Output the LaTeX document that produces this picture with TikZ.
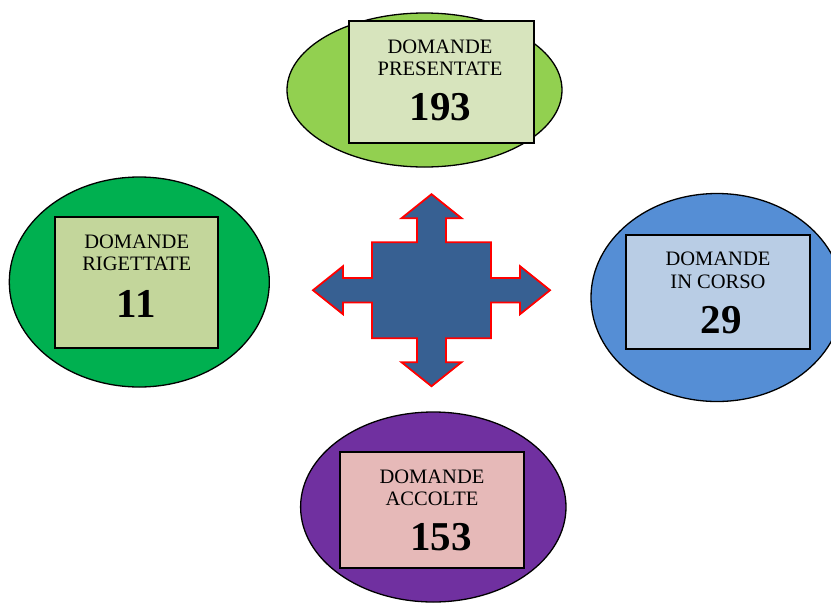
\documentclass[tikz,border=0pt]{standalone}
\usepackage{fontspec}
\setmainfont{Liberation Serif}
\usetikzlibrary{shapes.geometric}

\definecolor{presgreen}{HTML}{92D050}
\definecolor{presfill}{HTML}{D7E4BD}
\definecolor{riggreen}{HTML}{00B050}
\definecolor{rigfill}{HTML}{C3D69B}
\definecolor{corblue}{HTML}{558ED5}
\definecolor{corfill}{HTML}{B9CDE5}
\definecolor{accviolet}{HTML}{7030A0}
\definecolor{accfill}{HTML}{E6B9B8}
\definecolor{crossblue}{HTML}{376092}

\begin{document}
\begin{tikzpicture}[x=1pt, y=-1pt,
every node/.style={inner sep=0pt, outer sep=0pt},
oval/.style={ellipse, draw, line width=1.3pt},
box/.style={rectangle, draw, line width=1.8pt},
tit/.style={align=center, font=\fontsize{20.5}{22.3}\selectfont},
num/.style={font=\fontsize{41}{45}\selectfont\bfseries},
cross/.style={fill=crossblue, draw=red, line width=1.8pt, line join=miter}
]
\useasboundingbox (0,0) rectangle (831,603);

% presentate (top)
\node[oval, fill=presgreen, minimum width=275, minimum height=154] at (424.5,90) (pres) {};
\node[box, fill=presfill, minimum width=185, minimum height=122] at (441.5,82) (presbox) {};
\node[tit] at (440,57.5) (prestit) {DOMANDE\\PRESENTATE};
\node[num] at (440.5,107.5) (presnum) {193};

% rigettate (left)
\node[oval, fill=riggreen, minimum width=260, minimum height=210] at (139.3,282) (rig) {};
\node[box, fill=rigfill, minimum width=163, minimum height=131.6] at (136.8,282.5) (rigbox) {};
\node[tit] at (136.7,252.5) (rigtit) {DOMANDE\\RIGETTATE};
\node[num] at (136.3,303.8) (rignum) {11};

% in corso (right)
\node[oval, fill=corblue, minimum width=252, minimum height=208] at (717,297.5) (cor) {};
\node[box, fill=corfill, minimum width=184, minimum height=114] at (717.8,292) (corbox) {};
\node[tit] at (718,270.3) (cortit) {DOMANDE\\IN CORSO};
\node[num] at (721.2,320.5) (cornum) {29};

% accolte (bottom)
\node[oval, fill=accviolet, minimum width=265.4, minimum height=190] at (433.3,507) (acc) {};
\node[box, fill=accfill, minimum width=184.3, minimum height=116] at (432.2,510.3) (accbox) {};
\node[tit] at (432,487.8) (acctit) {DOMANDE\\ACCOLTE};
\node[num] at (440.8,537.5) (accnum) {153};

% freccia a quattro punte
\coordinate (mid) at (431.5,290.2);
\draw[cross, shift={(mid)}]
  (0,-96) -- (30,-72) -- (14.5,-72) -- (14.5,-48) -- (59.5,-48)
  -- (59.5,-12.2) -- (88.5,-12.2) -- (88.5,-24) -- (118.5,0) -- (88.5,24)
  -- (88.5,12.2) -- (59.5,12.2) -- (59.5,48) -- (14.5,48) -- (14.5,72)
  -- (30,72) -- (0,96) -- (-30,72) -- (-14.5,72) -- (-14.5,48)
  -- (-59.5,48) -- (-59.5,12.2) -- (-88.5,12.2) -- (-88.5,24) -- (-118.5,0)
  -- (-88.5,-24) -- (-88.5,-12.2) -- (-59.5,-12.2) -- (-59.5,-48)
  -- (-14.5,-48) -- (-14.5,-72) -- (-30,-72) -- cycle;

\end{tikzpicture}
\end{document}
